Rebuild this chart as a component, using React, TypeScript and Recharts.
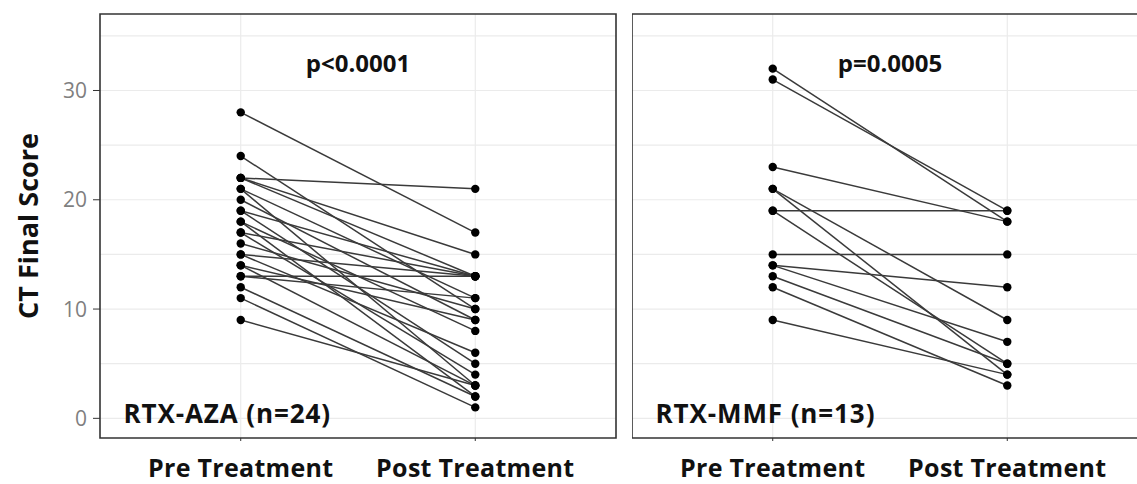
import React from 'react';
import { LineChart, Line, XAxis, YAxis, CartesianGrid, ReferenceArea, ReferenceDot } from 'recharts';

// paired CT scores, one entry per patient (pre[i] -> post[i])
const azaPre = [28, 24, 22, 22, 22, 21, 21, 20, 19, 19, 18, 18, 17, 17, 16, 15, 15, 14, 14, 13, 13, 12, 11, 9];
const azaPost = [17, 10, 21, 15, 13, 3, 11, 9, 13, 5, 8, 2, 13, 4, 10, 6, 13, 9, 3, 13, 11, 2, 1, 3];
const mmfPre = [32, 31, 23, 21, 21, 19, 19, 15, 14, 14, 13, 12, 9];
const mmfPost = [18, 19, 18, 9, 4, 19, 5, 15, 12, 7, 5, 3, 4];

const stages = ['Pre Treatment', 'Post Treatment'];
const yTicks = [0, 10, 20, 30];
const yGrid = [0, 5, 10, 15, 20, 25, 30, 35];
const panels = [
  { name: 'RTX-AZA (n=24)', pLabel: 'p<0.0001', pre: azaPre, post: azaPost },
  { name: 'RTX-MMF (n=13)', pLabel: 'p=0.0005', pre: mmfPre, post: mmfPost },
];

const X_DOMAIN: [number, number] = [0.4, 2.6];
const Y_DOMAIN: [number, number] = [-1.8, 37];
const FONT = '"Open Sans", sans-serif';

const buildRows = (pre: number[], post: number[]) =>
  [pre, post].map((vals, i) => {
    const row: Record<string, number> = { stage: i + 1 };
    vals.forEach((v, k) => { row[`p${k}`] = v; });
    return row;
  });

const XTick = ({ x, y, payload }: any) => (
  <text x={x} y={y + 36} textAnchor="middle" fontFamily={FONT} fontWeight={700} fontSize={25}
    letterSpacing={0.3} fill="#111">
    {stages[payload.value - 1]}
  </text>
);

const TextMark = (text: string, anchor: 'start' | 'middle', size: number, spacing: number) => (props: any) => (
  <text x={props.cx} y={props.cy} textAnchor={anchor} dominantBaseline="central" letterSpacing={spacing}
    fontFamily={FONT} fontWeight={700} fontSize={size} fill="#111">{text}</text>
);

const Panel = ({ idx, width }: { idx: number; width: number }) => {
  const p = panels[idx];
  const rows = buildRows(p.pre, p.post);
  const first = idx === 0;
  return (
    <LineChart width={width} height={484} data={rows} margin={{ top: 14, right: first ? 4 : 0, bottom: 0, left: 0 }}>
      <CartesianGrid horizontalValues={yGrid} verticalValues={[1, 2]} stroke="#ebebeb" strokeWidth={1.2} />
      <XAxis dataKey="stage" type="number" domain={X_DOMAIN} ticks={[1, 2]} allowDataOverflow
        height={46} axisLine={false} tickSize={3} tickMargin={0} tickLine={{ stroke: '#333' }} tick={<XTick />} />
      <YAxis type="number" domain={Y_DOMAIN} ticks={yTicks} allowDataOverflow hide={!first}
        width={first ? 100 : 0} axisLine={false} tickSize={7} tickMargin={6} tickLine={{ stroke: '#333' }}
        tick={{ fill: '#7f7f7f', fontSize: 21, fontFamily: FONT }}
        label={{
          content: (lp: any) => {
            const vb = lp.viewBox;
            const cx = vb.x + 27;
            const cy = vb.y + vb.height / 2;
            return (
              <text x={cx} y={cy} transform={`rotate(-90, ${cx}, ${cy})`} textAnchor="middle" dominantBaseline="central"
                fontFamily={FONT} fontWeight={700} fontSize={27} fill="#111">CT Final Score</text>
            );
          },
        }} />
      <ReferenceArea x1={X_DOMAIN[0]} x2={X_DOMAIN[1]} y1={Y_DOMAIN[0]} y2={Y_DOMAIN[1]}
        fill="none" stroke="#333" strokeWidth={1.6} ifOverflow="visible" />
      {p.pre.map((_, k) => (
        <Line key={k} dataKey={`p${k}`} stroke="#3a3a3a" strokeWidth={1.5} isAnimationActive={false}
          dot={{ r: 4.2, fill: '#000', stroke: 'none' }} activeDot={false} />
      ))}
      <ReferenceDot x={1.5} y={32.6} ifOverflow="visible" shape={TextMark(p.pLabel, 'middle', 24, 0)} />
      <ReferenceDot x={0.5} y={0.45} ifOverflow="visible" shape={TextMark(p.name, 'start', 26, 0.9)} />
    </LineChart>
  );
};

export default function App() {
  return (
    <div style={{ position: 'absolute', left: 0, top: 0, width: 1137, height: 484, overflow: 'hidden', background: '#fff' }}>
      <div style={{ position: 'absolute', left: 0, top: 0 }}>
        <Panel idx={0} width={620} />
      </div>
      <div style={{ position: 'absolute', left: 632, top: 0 }}>
        <Panel idx={1} width={516} />
      </div>
    </div>
  );
}
